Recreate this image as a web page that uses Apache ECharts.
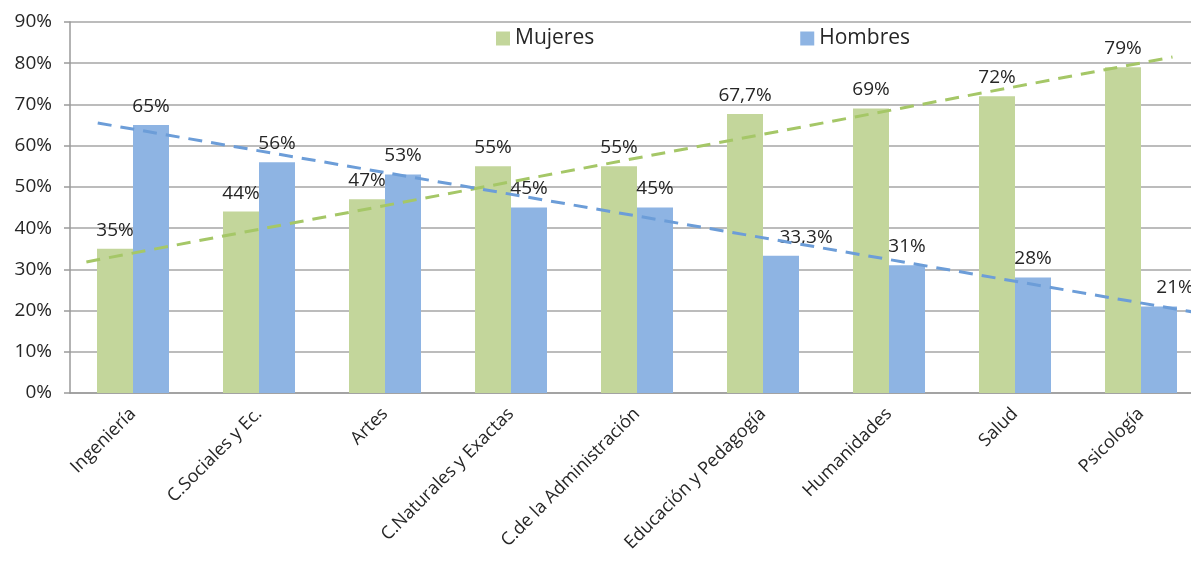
<!DOCTYPE html>
<html>
<head>
    <meta charset="utf-8">
    <title>Mujeres y Hombres por carrera</title>
    <script src="https://cdn.jsdelivr.net/npm/echarts@6/dist/echarts.min.js"></script>
    <style>
      html, body { margin: 0; padding: 0; background: #fff; }
      #main { width: 1191px; height: 571px; }
    </style>
</head>
<body>
    <div id="main"></div>
    <script type="text/javascript">

// categorias y porcentajes
let categorias = ['Ingeniería', 'C.Sociales y Ec.', 'Artes', 'C.Naturales y Exactas',
  'C.de la Administración', 'Educación y Pedagogía', 'Humanidades', 'Salud', 'Psicología']
let mujeres = [35, 44, 47, 55, 55, 67.7, 69, 72, 79]
let hombres = [65, 56, 53, 45, 45, 33.3, 31, 28, 21]

// lineas de tendencia: [indice de categoria, valor]
let tendMujeres = [[-0.37, 31.8], [8.25, 81.5]]
let tendHombres = [[-0.28, 65.5], [8.5, 19.2]]

let yTicks = [0, 90, 10] // min, max, intervalo

let txt = '#262626'
let fmt = v => String(v).replace('.', ',') + '%'

let labelTop = {
    show: true,
    position: 'top',
    distance: 9,
    color: txt,
    fontSize: 19,
    fontFamily: 'Open Sans',
    formatter: p => fmt(p.value)
}

let option = {
    animation: false,
    textStyle: { fontFamily: 'Open Sans' },
    // el area de trazado sigue un poco mas alla del borde derecho
    grid: { left: 70, top: 22, width: 1134, height: 371, outerBoundsMode: 'none', containLabel: false },
    legend: {
        data: ['Mujeres', 'Hombres'],
        left: 491,
        top: 23,
        itemWidth: 14,
        itemHeight: 14,
        itemGap: 206,
        icon: 'rect',
        textStyle: { fontSize: 21, color: txt, padding: [0, 0, 0, 0] }
    },
    xAxis: [
        {
            type: 'category',
            data: categorias,
            axisLine: { lineStyle: { color: '#9a9a9a', width: 1.5 } },
            axisTick: { length: 6, lineStyle: { color: '#9a9a9a', width: 1.5 } },
            axisLabel: { rotate: 45, margin: 18, fontSize: 18, color: txt, interval: 0 }
        },
        {
            type: 'value',
            min: -0.5,
            max: 8.5,
            show: false
        }
    ],
    yAxis: {
        type: 'value',
        min: yTicks[0],
        max: yTicks[1],
        interval: yTicks[2],
        axisLine: { show: true, onZero: false, lineStyle: { color: '#9a9a9a', width: 1.5 } },
        axisTick: { show: true, length: 6, lineStyle: { color: '#9a9a9a', width: 1.5 } },
        axisLabel: { formatter: '{value}%', fontSize: 19, color: txt, margin: 18 },
        splitLine: { lineStyle: { color: '#a6a6a6', width: 1.5 } }
    },
    series: [
        {
            name: 'Mujeres',
            type: 'bar',
            data: mujeres,
            barWidth: 36,
            barGap: '0%',
            itemStyle: { color: '#C3D69B' },
            label: labelTop
        },
        {
            name: 'Hombres',
            type: 'bar',
            data: hombres.map((v, i) => i === 5 ? { value: v, label: { offset: [25, 0] } }
                : i === 8 ? { value: v, label: { offset: [16, 0] } } : v),
            barWidth: 36,
            itemStyle: { color: '#8EB4E3' },
            label: labelTop
        },
        {
            name: 'tendencia Mujeres',
            type: 'line',
            xAxisIndex: 1,
            data: tendMujeres,
            symbol: 'none',
            z: 5,
            lineStyle: { color: '#A5C767', width: 3, type: [14, 9] }
        },
        {
            name: 'tendencia Hombres',
            type: 'line',
            xAxisIndex: 1,
            data: tendHombres,
            symbol: 'none',
            z: 5,
            lineStyle: { color: '#6C9DD8', width: 3, type: [14, 9] }
        }
    ]
}

echarts.init(document.getElementById('main')).setOption(option)

    </script>
</body>
</html>
